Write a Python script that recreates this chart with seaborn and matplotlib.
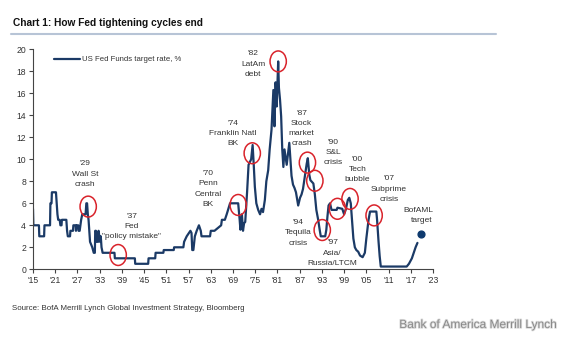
import matplotlib
matplotlib.use("Agg")
import matplotlib.pyplot as plt
import matplotlib.patheffects as pe
from matplotlib.patches import Ellipse
import seaborn as sns
import pandas as pd

sns.set_theme(style="white")
plt.rcParams["font.family"] = ["Liberation Sans", "DejaVu Sans"]

# US Fed Funds / discount rate history (year, %)
years = [1915.0, 1915.1, 1916.6, 1916.7, 1918.0, 1918.1, 1919.6, 1919.7, 1920.0, 1920.1,
         1921.2, 1921.4, 1921.6, 1921.8, 1922.2, 1922.4, 1922.7, 1922.8, 1924.0, 1924.2,
         1924.4, 1925.0, 1925.1, 1925.8, 1925.9, 1926.5, 1926.6, 1926.8, 1927.2, 1927.3,
         1927.6, 1927.8, 1928.0, 1928.3, 1929.2, 1929.4, 1929.6, 1929.8, 1930.0, 1930.2,
         1930.4, 1931.0, 1931.4, 1931.7, 1931.8, 1932.0, 1932.2, 1932.6, 1932.7, 1932.9,
         1933.1, 1933.3, 1933.5, 1933.8, 1937.0, 1937.1, 1942.5, 1942.6, 1946.1, 1946.2,
         1948.0, 1948.1, 1950.2, 1950.3, 1953.0, 1953.1, 1955.6, 1955.8, 1956.5, 1957.5,
         1957.8, 1958.0, 1958.3, 1958.7, 1959.2, 1959.8, 1960.3, 1960.5, 1962.8, 1963.0,
         1964.0, 1965.8, 1966.0, 1966.8, 1967.3, 1968.2, 1970.4, 1970.8, 1971.0, 1971.4,
         1971.7, 1972.0, 1972.3, 1972.8, 1973.2, 1973.9, 1974.3, 1974.6, 1974.9, 1975.3,
         1975.8, 1976.3, 1976.7, 1977.1, 1977.6, 1978.0, 1978.5, 1978.9, 1979.4, 1979.9,
         1980.2, 1980.5, 1980.8, 1981.2, 1981.4, 1981.7, 1982.0, 1982.3, 1982.6, 1982.9,
         1983.5, 1984.2, 1984.8, 1985.2, 1985.6, 1986.0, 1986.6, 1987.1, 1987.5, 1987.9,
         1988.3, 1988.9, 1989.2, 1989.6, 1989.9, 1990.7, 1991.1, 1991.5, 1992.0, 1992.4,
         1992.7, 1993.9, 1994.2, 1994.5, 1994.8, 1995.2, 1995.6, 1997.0, 1997.2, 1998.5,
         1999.0, 1999.5, 2000.0, 2000.4, 2000.8, 2001.1, 2001.5, 2001.9, 2002.3, 2002.8,
         2003.3, 2004.0, 2004.6, 2005.0, 2005.6, 2006.0, 2007.7, 2007.9, 2008.1, 2008.3,
         2008.6, 2008.9, 2015.9, 2016.5, 2016.9, 2017.3, 2017.8, 2018.3, 2018.8]
rates = [5.5, 4.0, 4.0, 3.0, 3.0, 4.0, 4.0, 6.0, 6.0, 7.0,
         7.0, 6.0, 5.0, 4.5, 4.5, 4.0, 4.0, 4.5, 4.5, 3.5,
         3.0, 3.0, 3.5, 3.5, 4.0, 4.0, 3.5, 4.0, 4.0, 3.5,
         3.5, 4.0, 4.5, 5.0, 5.0, 6.0, 6.0, 5.0, 4.5, 3.5,
         2.5, 2.0, 1.5, 1.5, 3.5, 3.5, 2.5, 2.5, 3.5, 3.0,
         2.5, 3.0, 2.0, 1.5, 1.5, 1.0, 1.0, 0.5, 0.5, 1.0,
         1.0, 1.5, 1.5, 1.75, 1.75, 2.0, 2.0, 2.5, 3.0, 3.5,
         3.3, 1.75, 1.75, 3.0, 3.5, 4.0, 3.5, 3.0, 3.0, 3.5,
         3.5, 4.0, 4.5, 4.5, 5.0, 6.0, 6.0, 4.5, 3.6, 5.0,
         3.5, 4.2, 4.3, 7.0, 9.5, 10.0, 11.3, 9.5, 7.5, 6.0,
         5.4, 5.0, 5.5, 5.2, 6.3, 8.0, 9.0, 10.9, 12.7, 16.3,
         13.0, 17.0, 14.8, 18.9, 16.5, 15.4, 13.9, 10.9, 9.3, 10.9,
         9.5, 11.5, 8.5, 7.7, 7.4, 7.0, 5.8, 6.5, 6.8, 7.3,
         8.2, 9.6, 10.1, 8.6, 8.1, 7.8, 6.8, 5.4, 4.5, 3.6,
         3.0, 3.0, 3.6, 4.8, 5.8, 6.0, 5.4, 5.4, 5.6, 5.5,
         5.0, 5.5, 6.3, 6.5, 6.0, 4.6, 2.8, 2.0, 1.75, 1.6,
         1.25, 1.1, 1.5, 2.8, 4.5, 5.25, 5.25, 4.5, 3.5, 2.5,
         1.2, 0.25, 0.25, 0.5, 0.75, 1.0, 1.5, 2.0, 2.4]

target_year = [2019.8]
target_rate = [3.2]

# Episodes that ended a tightening cycle: marker centre, label position, label
event_x = [1929.9, 1938.0, 1970.4, 1974.2, 1981.2, 1989.1, 1991.1, 1993.1, 1997.2, 2000.6, 2007.1]
event_y = [5.7, 1.3, 5.85, 10.55, 18.9, 9.7, 8.05, 3.57, 5.5, 6.4, 4.9]
label_x = [1929.0, 1941.6, 1962.2, 1968.9, 1974.5, 1987.5, 1996.1, 1986.6, 1995.9, 2002.6, 2011.1]
label_y = [8.66, 3.87, 7.3, 12.35, 18.66, 12.8, 10.6, 3.3, 1.48, 9.08, 7.28]
labels = ["'29\nWall St\ncrash",
          "'37\nFed\n\"policy mistake\"",
          "'70\nPenn\nCentral\nBK",
          "'74\nFranklin Natl\nBK",
          "'82\nLatAm\ndebt",
          "'87\nStock\nmarket\ncrash",
          "'90\nS&L\ncrisis",
          "'94\nTequila\ncrisis",
          "'97\nAsia/\nRussia/LTCM",
          "'00\nTech\nbubble",
          "'07\nSubprime\ncrisis"]

tick_years = list(range(1915, 2024, 6))

NAVY = "#1B3A66"
RED = "#D9232B"
TEXT = "#333333"
FS = 6.0

df = pd.DataFrame({"year": years, "rate": rates})

fig = plt.figure(figsize=(5.65, 3.37), dpi=100)
ax = fig.add_axes([33 / 565, 1 - 269.3 / 337, 400 / 565, 220 / 337])

sns.lineplot(data=df, x="year", y="rate", ax=ax, color=NAVY, linewidth=1.6,
             label="US Fed Funds target rate, %", legend=False)
ax.scatter(target_year, target_rate, s=24, color="#0E3A6E", zorder=5)

for ex, ey in zip(event_x, event_y):
    ax.add_patch(Ellipse((ex, ey), width=4.4, height=1.9, fill=False,
                         edgecolor=RED, linewidth=1.1, zorder=6))

for lx, ly, txt in zip(label_x, label_y, labels):
    ax.text(lx, ly, txt, ha="center", va="center", fontsize=FS, color=TEXT,
            linespacing=1.65)
ax.text(2023.0, 4.9, "BofAML\ntarget", ha="right", va="center", fontsize=FS,
        color=TEXT, linespacing=1.65)

ax.set_xlim(1915, 2023)
ax.set_ylim(0, 20)
ax.set_xticks(tick_years)
ax.set_xticklabels([f"'{y % 100:02d}" for y in tick_years])
ax.set_yticks(range(0, 21, 2))
ax.set_xlabel("")
ax.set_ylabel("")
for side in ("top", "right"):
    ax.spines[side].set_visible(False)
for side in ("left", "bottom"):
    ax.spines[side].set_color("#444444")
    ax.spines[side].set_linewidth(0.8)
ax.tick_params(axis="both", which="both", direction="out", length=3, width=0.8,
               colors="#444444", labelsize=6.2, labelcolor=TEXT, pad=2,
               bottom=True, left=True)

leg = ax.legend(loc="upper left", bbox_to_anchor=(0.04, 0.995), frameon=False,
                fontsize=5.6, handlelength=3.3, handletextpad=0.25, borderpad=0.2)
for t in leg.get_texts():
    t.set_color(TEXT)

fig.text(13 / 565, 1 - 23 / 337, "Chart 1: How Fed tightening cycles end",
         fontsize=7.3, fontweight="bold", color="#111111", va="center")
fig.add_artist(plt.Line2D([11 / 565, 496 / 565], [1 - 33.5 / 337] * 2,
                          color="#B7C4D6", linewidth=1.5))
fig.text(12 / 565, 1 - 308 / 337,
         "Source: BofA Merrill Lynch Global Investment Strategy, Bloomberg",
         fontsize=5.7, color=TEXT, va="center")
fig.text(556 / 565, 1 - 325 / 337, "Bank of America Merrill Lynch",
         fontsize=8.6, color="#8A8A8A", ha="right", va="center",
         path_effects=[pe.withStroke(linewidth=1.2, foreground="#DDDDDD")])

fig.savefig("out.png", dpi=100)
